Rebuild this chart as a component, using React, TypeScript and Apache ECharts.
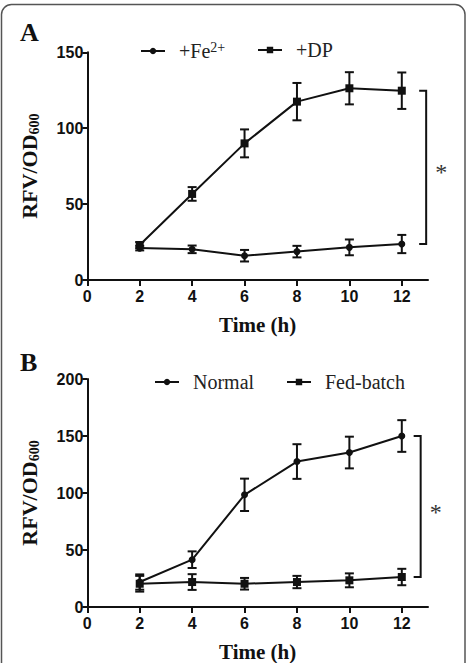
import React, { useEffect, useRef } from "react";
import * as echarts from "echarts";

// Sampling times (h)
const times = [2, 4, 6, 8, 10, 12];
const xTicks = [0, 2, 4, 6, 8, 10, 12];

// Panel A: iron supplemented vs. iron chelated (DP)
const feMean = [21, 20.2, 16, 18.7, 21.5, 23.7];
const feSd = [1.5, 2.5, 3.8, 3.8, 5.2, 6];
const dpMean = [23, 56.7, 90, 117.5, 126.3, 124.7];
const dpSd = [2, 4.5, 9.2, 12.3, 10.6, 12];

// Panel B: normal vs. fed-batch culture
const normalMean = [21.9, 41.5, 98.4, 127.6, 135.5, 150];
const normalSd = [6.7, 7.3, 14.2, 15.2, 13.9, 13.9];
const fedMean = [20.4, 21.9, 20.4, 21.9, 23.4, 26.3];
const fedSd = [6.9, 6.9, 5.1, 5.4, 6.1, 7.2];

const SERIF = "'Liberation Serif', 'Times New Roman', serif";
const SANS = "'Liberation Sans', Arial, sans-serif";
const INK = "#111";

const pairs = (ys: number[]) => times.map((t, i) => [t, ys[i]]);
const bars = (ys: number[], sd: number[]) =>
  times.map((t, i) => [t, ys[i] - sd[i], ys[i] + sd[i]]);

function errorSeries(idx: number, ys: number[], sd: number[]) {
  return {
    type: "custom",
    xAxisIndex: idx,
    yAxisIndex: idx,
    data: bars(ys, sd),
    z: 3,
    renderItem: (_p: any, api: any) => {
      const x = api.value(0);
      const lo = api.coord([x, api.value(1)]);
      const hi = api.coord([x, api.value(2)]);
      const w = 4.5;
      const st = { stroke: INK, lineWidth: 2 };
      return {
        type: "group",
        children: [
          { type: "line", shape: { x1: lo[0], y1: lo[1], x2: hi[0], y2: hi[1] }, style: st },
          { type: "line", shape: { x1: lo[0] - w, y1: lo[1], x2: lo[0] + w, y2: lo[1] }, style: st },
          { type: "line", shape: { x1: hi[0] - w, y1: hi[1], x2: hi[0] + w, y2: hi[1] }, style: st },
        ],
      };
    },
  };
}

function lineSeries(idx: number, name: string, ys: number[], symbol: string, size: number) {
  return {
    type: "line",
    name,
    xAxisIndex: idx,
    yAxisIndex: idx,
    data: pairs(ys),
    symbol,
    symbolSize: size,
    showAllSymbol: true,
    itemStyle: { color: INK },
    lineStyle: { color: INK, width: 2 },
    z: 4,
  };
}

// Significance bracket joining the two final time points, with an asterisk
function bracketSeries(idx: number, a: number[], b: number[], bx: number) {
  const last = a.length - 1;
  const top = Math.max(a[last], b[last]);
  const bottom = Math.min(a[last], b[last]);
  return {
    type: "custom",
    xAxisIndex: idx,
    yAxisIndex: idx,
    clip: false,
    data: [[bx, bottom, top]],
    renderItem: (_p: any, api: any) => {
      const p1 = api.coord([api.value(0), api.value(2)]);
      const p2 = api.coord([api.value(0), api.value(1)]);
      const t = 7;
      return {
        type: "group",
        children: [
          {
            type: "polyline",
            shape: { points: [[p1[0] - t, p1[1]], [p1[0], p1[1]], [p2[0], p2[1]], [p2[0] - t, p2[1]]] },
            style: { stroke: INK, lineWidth: 2, fill: "none" },
          },
          {
            type: "text",
            x: p1[0] + 15,
            y: (p1[1] + p2[1]) / 2 + 5,
            style: { text: "*", font: `24px ${SERIF}`, fill: "#333", align: "center", verticalAlign: "middle" },
          },
        ],
      };
    },
  };
}

function xAxisOf(idx: number) {
  return {
    type: "value",
    gridIndex: idx,
    min: 0,
    max: 13,
    interval: 2,
    splitLine: { show: false },
    axisLine: { show: true, onZero: false, lineStyle: { color: INK, width: 2 } },
    axisTick: { show: true, length: 6, lineStyle: { color: INK, width: 2 }, customValues: xTicks },
    axisLabel: {
      customValues: xTicks,
      margin: 8,
      color: INK,
      fontFamily: SANS,
      fontWeight: "bold",
      fontSize: 16,
    },
    name: "Time (h)",
    nameLocation: "middle",
    nameGap: 34,
    nameTextStyle: { fontFamily: SERIF, fontWeight: "bold", fontSize: 21, color: INK },
  };
}

function yAxisOf(idx: number, max: number) {
  return {
    type: "value",
    gridIndex: idx,
    min: 0,
    max,
    interval: 50,
    splitLine: { show: false },
    axisLine: { show: true, lineStyle: { color: INK, width: 2 } },
    axisTick: { show: true, length: 5, lineStyle: { color: INK, width: 2 } },
    axisLabel: { margin: 4, color: INK, fontFamily: SANS, fontWeight: "bold", fontSize: 16 },
    name: "{m|RFV/OD}{s|600}",
    nameLocation: "middle",
    nameRotate: 90,
    nameGap: 46,
    nameTextStyle: {
      rich: {
        m: { fontFamily: SERIF, fontWeight: "bold", fontSize: 22, color: INK, lineHeight: 24 },
        s: { fontFamily: SERIF, fontWeight: "bold", fontSize: 14, color: INK, verticalAlign: "bottom", lineHeight: 18 },
      },
    },
  };
}

function legendOf(name: string, left: number, top: number) {
  return {
    data: [name],
    left,
    top,
    padding: 0,
    itemWidth: 24,
    itemHeight: 8,
    selectedMode: false,
    formatter: (n: string) => (n === "+Fe2+" ? "{m|+Fe}{sup|2+}" : `{m|${n}}`),
    textStyle: {
      padding: [0, 0, 0, 9],
      rich: {
        m: { fontFamily: SERIF, fontSize: 20, color: "#222", lineHeight: 22 },
        sup: { fontFamily: SERIF, fontSize: 14, color: "#222", verticalAlign: "top", lineHeight: 12 },
      },
    },
  };
}

export default function App() {
  const ref = useRef<HTMLDivElement>(null);

  useEffect(() => {
    document.body.style.margin = "0";
    const chart = echarts.init(ref.current!, null, { renderer: "svg" });
    chart.setOption({
      animation: false,
      backgroundColor: "#fff",
      grid: [
        { left: 87.3, top: 52.3, width: 340.7, height: 227.7 },
        { left: 87.3, top: 379, width: 340.7, height: 228.3 },
      ],
      xAxis: [xAxisOf(0), xAxisOf(1)],
      yAxis: [yAxisOf(0, 150), yAxisOf(1, 200)],
      legend: [
        legendOf("+Fe2+", 140, 40),
        legendOf("+DP", 257, 40),
        legendOf("Normal", 154, 372),
        legendOf("Fed-batch", 286, 372),
      ],
      graphic: [
        {
          type: "rect",
          shape: { x: 1.5, y: 4.5, width: 463.5, height: 680, r: [10, 10, 0, 0] },
          style: { fill: "none", stroke: "#555", lineWidth: 1.5 },
          silent: true,
        },
        {
          type: "text",
          left: 20,
          top: 19,
          style: { text: "A", font: `bold 26px ${SERIF}`, fill: INK },
        },
        {
          type: "text",
          left: 20,
          top: 349,
          style: { text: "B", font: `bold 26px ${SERIF}`, fill: INK },
        },
      ],
      series: [
        errorSeries(0, feMean, feSd),
        errorSeries(0, dpMean, dpSd),
        lineSeries(0, "+Fe2+", feMean, "circle", 7),
        lineSeries(0, "+DP", dpMean, "rect", 8),
        bracketSeries(0, feMean, dpMean, 12.93),
        errorSeries(1, normalMean, normalSd),
        errorSeries(1, fedMean, fedSd),
        lineSeries(1, "Normal", normalMean, "circle", 7),
        lineSeries(1, "Fed-batch", fedMean, "rect", 8),
        bracketSeries(1, normalMean, fedMean, 12.72),
      ],
    });
    return () => chart.dispose();
  }, []);

  return <div ref={ref} style={{ width: 467, height: 663 }} />;
}
